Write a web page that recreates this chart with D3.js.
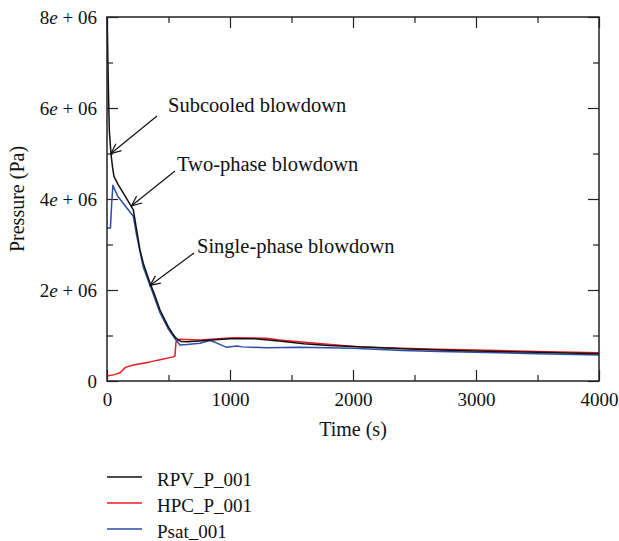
<!DOCTYPE html>
<html>
<head>
<meta charset="utf-8">
<script src="https://cdn.jsdelivr.net/npm/d3@7/dist/d3.min.js"></script>
<style>
  html, body { margin: 0; padding: 0; background: #fff; }
  svg { display: block; }
  text { font-family: "Liberation Serif", "DejaVu Serif", serif; fill: #111; }
</style>
</head>
<body>
<svg id="chart" width="619" height="541"></svg>
<script>
// ---- Data (time in s, pressure in Pa) ----
const rpvTime  = [0, 2, 7, 13, 19, 32, 45, 57, 92, 150, 214, 241, 268, 295, 350, 380, 431, 460, 499, 530, 561, 600, 648, 750, 850, 1000, 1200, 1400, 1600, 1800, 2000, 2400, 2700, 3000, 3500, 4000];
const rpvP     = [8.0e6, 7.95e6, 7.1e6, 6.2e6, 5.5e6, 5.0e6, 4.7e6, 4.49e6, 4.31e6, 4.05e6, 3.76e6, 3.32e6, 2.88e6, 2.59e6, 2.15e6, 1.95e6, 1.56e6, 1.4e6, 1.19e6, 1.05e6, 0.94e6, 0.87e6, 0.86e6, 0.88e6, 0.9e6, 0.93e6, 0.93e6, 0.88e6, 0.82e6, 0.78e6, 0.76e6, 0.71e6, 0.68e6, 0.66e6, 0.63e6, 0.6e6];

const hpcTime  = [0, 60, 106, 150, 214, 350, 450, 539, 552, 561, 593, 756, 1024, 1298, 1400, 1700, 2057, 2400, 2700, 3000, 3500, 4000];
const hpcP     = [0.11e6, 0.14e6, 0.18e6, 0.3e6, 0.35e6, 0.42e6, 0.48e6, 0.53e6, 0.55e6, 0.86e6, 0.92e6, 0.9e6, 0.95e6, 0.94e6, 0.9e6, 0.83e6, 0.75e6, 0.72e6, 0.7e6, 0.68e6, 0.65e6, 0.62e6];

const psatTime = [0, 28, 38, 48, 55, 90, 133, 214, 241, 268, 295, 350, 431, 499, 561, 593, 650, 756, 837, 880, 973, 1054, 1100, 1298, 1569, 2000, 2400, 2700, 3000, 3500, 4000];
const psatP    = [3.36e6, 3.36e6, 3.9e6, 4.3e6, 4.25e6, 4.05e6, 3.9e6, 3.62e6, 3.2e6, 2.85e6, 2.5e6, 2.1e6, 1.5e6, 1.14e6, 0.9e6, 0.79e6, 0.8e6, 0.83e6, 0.89e6, 0.85e6, 0.74e6, 0.77e6, 0.75e6, 0.73e6, 0.74e6, 0.72e6, 0.67e6, 0.65e6, 0.63e6, 0.6e6, 0.57e6];

const seriesNames  = ["RPV_P_001", "HPC_P_001", "Psat_001"];
const seriesColors = ["#111111", "#ee1c24", "#2a4ea6"];

const xMajor = [0, 1000, 2000, 3000, 4000];
const xMinor = [500, 1500, 2500, 3500];
const yMajor = [0, 2e6, 4e6, 6e6, 8e6];
const yMinor = [1e6, 3e6, 5e6, 7e6];
const yTickLabels = [["0"], ["2", "06"], ["4", "06"], ["6", "06"], ["8", "06"]];

const annotations = [
  { text: "Subcooled blowdown",    tx: 168, ty: 112, from: [157, 116], to: [32, 5.0e6] },
  { text: "Two-phase blowdown",    tx: 177, ty: 171, from: [175, 171], to: [200, 3.85e6] },
  { text: "Single-phase blowdown", tx: 197, ty: 253, from: [194, 253], to: [350, 2.1e6] }
];

// ---- Layout ----
const svg = d3.select("#chart");
const L = 107, R = 599, T = 17, B = 381;
const x = d3.scaleLinear().domain([0, 4000]).range([L, R]);
const y = d3.scaleLinear().domain([0, 8e6]).range([B, T]);

const axisColor = "#222";
function styleAxis(g) {
  g.select(".domain").remove();
  g.selectAll(".tick line").attr("stroke", axisColor).attr("stroke-width", 1.2);
}

// major/minor ticks on all four sides (inward)
svg.append("g").attr("transform", `translate(0,${B})`)
  .call(d3.axisBottom(x).tickValues(xMajor).tickSizeInner(-11).tickSizeOuter(0).tickPadding(12).tickFormat(d3.format("d")))
  .call(styleAxis)
  .call(g => g.selectAll("text").attr("font-size", 19).attr("fill", "#111").attr("font-family", "Liberation Serif"));
svg.append("g").attr("transform", `translate(0,${B})`)
  .call(d3.axisBottom(x).tickValues(xMinor).tickSizeInner(-6).tickSizeOuter(0).tickFormat(""))
  .call(styleAxis);
svg.append("g").attr("transform", `translate(0,${T})`)
  .call(d3.axisTop(x).tickValues(xMajor).tickSizeInner(-11).tickSizeOuter(0).tickFormat(""))
  .call(styleAxis);
svg.append("g").attr("transform", `translate(0,${T})`)
  .call(d3.axisTop(x).tickValues(xMinor).tickSizeInner(-6).tickSizeOuter(0).tickFormat(""))
  .call(styleAxis);

const yAx = svg.append("g").attr("transform", `translate(${L},0)`)
  .call(d3.axisLeft(y).tickValues(yMajor).tickSizeInner(-11).tickSizeOuter(0).tickPadding(10).tickFormat(""))
  .call(styleAxis);
yAx.selectAll(".tick text").each(function(d, i) {
  const t = d3.select(this).attr("font-size", 19).attr("fill", "#111").attr("font-family", "Liberation Serif");
  const lab = yTickLabels[i];
  t.text(null);
  t.append("tspan").text(lab[0]);
  if (lab.length > 1) {
    t.append("tspan").attr("font-style", "italic").text("e");
    t.append("tspan").text(" + " + lab[1]);
  }
});
svg.append("g").attr("transform", `translate(${L},0)`)
  .call(d3.axisLeft(y).tickValues(yMinor).tickSizeInner(-6).tickSizeOuter(0).tickFormat(""))
  .call(styleAxis);
svg.append("g").attr("transform", `translate(${R},0)`)
  .call(d3.axisRight(y).tickValues(yMajor).tickSizeInner(-11).tickSizeOuter(0).tickFormat(""))
  .call(styleAxis);
svg.append("g").attr("transform", `translate(${R},0)`)
  .call(d3.axisRight(y).tickValues(yMinor).tickSizeInner(-6).tickSizeOuter(0).tickFormat(""))
  .call(styleAxis);

// ---- Lines ----
const line = d3.line().x(d => x(d[0])).y(d => y(d[1]));
const series = [
  d3.zip(hpcTime, hpcP),
  d3.zip(psatTime, psatP),
  d3.zip(rpvTime, rpvP)
];
const order = [1, 2, 0];
series.forEach((s, i) => {
  svg.append("path").datum(s)
    .attr("d", line)
    .attr("fill", "none")
    .attr("stroke", seriesColors[order[i]])
    .attr("stroke-width", 1.5)
    .attr("stroke-linejoin", "round");
});

// frame
svg.append("rect").attr("x", L).attr("y", T).attr("width", R - L).attr("height", B - T)
  .attr("fill", "none").attr("stroke", axisColor).attr("stroke-width", 1.5);

// ---- Axis titles ----
svg.append("text").attr("x", (L + R) / 2).attr("y", 436).attr("text-anchor", "middle")
  .attr("font-size", 20).text("Time (s)");
svg.append("text").attr("transform", `translate(24,${(T + B) / 2}) rotate(-90)`)
  .attr("text-anchor", "middle").attr("font-size", 20).text("Pressure (Pa)");

// ---- Annotations ----
annotations.forEach(a => {
  const x0 = a.from[0], y0 = a.from[1];
  const x1 = x(a.to[0]), y1 = y(a.to[1]);
  svg.append("line").attr("x1", x0).attr("y1", y0).attr("x2", x1).attr("y2", y1)
    .attr("stroke", "#111").attr("stroke-width", 1.2);
  const ang = Math.atan2(y0 - y1, x0 - x1);
  const len = 11, spread = 0.42;
  const p1 = [x1 + len * Math.cos(ang + spread), y1 + len * Math.sin(ang + spread)];
  const p2 = [x1 + len * Math.cos(ang - spread), y1 + len * Math.sin(ang - spread)];
  svg.append("path").attr("d", `M${p1[0]},${p1[1]}L${x1},${y1}L${p2[0]},${p2[1]}`)
    .attr("fill", "none").attr("stroke", "#111").attr("stroke-width", 1.2);
  svg.append("text").attr("x", a.tx).attr("y", a.ty).attr("font-size", 20.5).text(a.text);
});

// ---- Legend ----
const leg = svg.append("g");
seriesNames.forEach((n, i) => {
  const yy = 477 + i * 26;
  leg.append("line").attr("x1", 107).attr("x2", 142).attr("y1", yy).attr("y2", yy)
    .attr("stroke", seriesColors[i]).attr("stroke-width", 1.5);
  leg.append("text").attr("x", 157).attr("y", yy + 8.5).attr("font-size", 19).text(n);
});
</script>
</body>
</html>
